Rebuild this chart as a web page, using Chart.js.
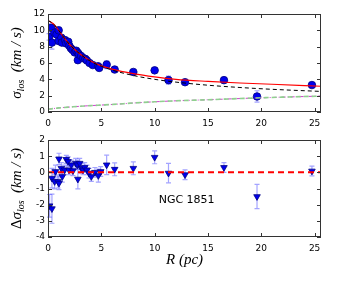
<!DOCTYPE html>
<html>
<head>
<meta charset="utf-8">
<script src="https://cdn.jsdelivr.net/npm/chart.js@4"></script>
<style>
  html, body { margin: 0; padding: 0; background: #fff; }
  #wrap { position: relative; width: 337px; height: 281px; }
  canvas { position: absolute; left: 0; }
</style>
</head>
<body>
<div id="wrap">
  <canvas id="topChart" width="337" height="130" style="top:0"></canvas>
  <canvas id="botChart" width="337" height="151" style="top:130px"></canvas>
</div>
<script>
// axis ticks
const xTicks = [0, 5, 10, 15, 20, 25];
const topYTicks = [0, 2, 4, 6, 8, 10, 12];
const botYTicks = [-4, -3, -2, -1, 0, 1, 2];

// measured velocity dispersion (top panel)
const sigR = [0.1, 0.3, 0.37, 0.6, 0.8, 1.0, 1.0, 1.25, 1.3, 1.6, 1.7, 1.9, 2.0, 2.15, 2.3, 2.5, 2.65, 2.8, 2.8, 2.9, 3.1, 3.3, 3.5, 3.65, 3.9, 4.2, 4.7, 4.8, 5.5, 6.25, 8.0, 10.0, 11.3, 12.85, 16.5, 19.6, 24.75];
const sigV = [9.2, 10.3, 8.5, 9.7, 9.5, 10.0, 8.7, 9.1, 8.5, 8.8, 8.4, 8.6, 8.1, 7.8, 7.6, 7.3, 7.5, 7.25, 6.35, 7.05, 6.85, 6.6, 6.5, 6.3, 6.0, 5.75, 5.6, 5.4, 5.8, 5.2, 4.9, 5.1, 3.9, 3.65, 3.9, 1.9, 3.3];
const sigE = [0.4, 0.5, 0.8, 0.3, 0.3, 0.4, 0.4, 0.3, 0.3, 0.3, 0.3, 0.3, 0.3, 0.3, 0.3, 0.3, 0.3, 0.3, 0.3, 0.3, 0.3, 0.3, 0.3, 0.3, 0.3, 0.3, 0.3, 0.3, 0.5, 0.35, 0.3, 0.35, 0.5, 0.3, 0.3, 0.7, 0.3];

// model curves (top panel)
const modelR = [0, 0.5, 1, 1.5, 2, 3, 4, 5, 6, 8, 10, 12, 15, 18, 21, 25.6];
const fitRed = [11.2, 10.8, 10.0, 9.1, 8.3, 7.1, 6.25, 5.65, 5.25, 4.7, 4.3, 4.0, 3.75, 3.55, 3.4, 3.15];
const fitBlack = [11.2, 10.8, 10.0, 9.1, 8.3, 7.1, 6.2, 5.6, 5.14, 4.47, 4.0, 3.66, 3.28, 3.0, 2.78, 2.52];
const darkComp = [0.35, 0.42, 0.5, 0.55, 0.6, 0.7, 0.78, 0.85, 0.92, 1.1, 1.25, 1.37, 1.5, 1.65, 1.78, 1.95];

// residuals (bottom panel)
const resR = [0.15, 0.37, 0.37, 0.62, 0.7, 0.94, 1.03, 1.03, 1.25, 1.34, 1.56, 1.72, 1.88, 1.97, 2.19, 2.34, 2.6, 2.75, 2.8, 2.97, 3.12, 3.28, 3.44, 3.66, 3.84, 4.06, 4.4, 4.72, 4.94, 5.5, 6.25, 8.0, 10.0, 11.3, 12.85, 16.5, 19.6, 24.75];
const resV = [-2.07, -2.25, -0.36, -0.57, 0.05, -0.57, 0.83, -0.67, 0.25, -0.26, 0.15, 0.8, 0.67, 0.15, 0.46, 0.1, 0.56, 0.46, -0.42, 0.56, 0.25, 0.15, 0.3, 0.15, -0.05, -0.26, 0.0, -0.2, 0.05, 0.46, 0.19, 0.25, 0.93, -0.05, -0.15, 0.3, -1.5, 0.08];
const resE = [0.7, 0.9, 0.6, 0.45, 0.4, 0.4, 0.35, 0.4, 0.35, 0.35, 0.3, 0.25, 0.3, 0.3, 0.3, 0.3, 0.3, 0.3, 0.6, 0.3, 0.3, 0.3, 0.3, 0.3, 0.3, 0.3, 0.3, 0.4, 0.3, 0.6, 0.4, 0.4, 0.4, 0.6, 0.3, 0.3, 0.75, 0.3];
const zeroR = [0, 25.6];
const zeroV = [0, 0];

const xMax = 25.6;
const tickFont = { family: 'DejaVu Sans', size: 9 };
const mathFont = '"Liberation Serif", "DejaVu Serif", serif';

function pts(xs, ys) {
  return xs.map((x, i) => ({ x, y: ys[i] }));
}

// draw "main_sub rest" style math text, optionally rotated
function drawMath(ctx, parts, x, y, rotate) {
  ctx.save();
  ctx.translate(x, y);
  if (rotate) ctx.rotate(-Math.PI / 2);
  let total = 0;
  parts.forEach((p) => {
    ctx.font = (p.upright ? '' : 'italic ') + p.size + 'px ' + mathFont;
    p.w = ctx.measureText(p.t).width;
    total += p.w;
  });
  let cx = -total / 2;
  ctx.fillStyle = '#000';
  ctx.textBaseline = 'middle';
  ctx.textAlign = 'left';
  parts.forEach((p) => {
    ctx.font = (p.upright ? '' : 'italic ') + p.size + 'px ' + mathFont;
    ctx.fillText(p.t, cx, p.dy || 0);
    cx += p.w;
  });
  ctx.restore();
}

const framePlugin = {
  id: 'frame',
  beforeDatasetsDraw(chart) {
    const ctx = chart.ctx;
    const xs = chart.scales.x, ys = chart.scales.y;
    chart.data.datasets.forEach((ds) => {
      if (!ds.errors) return;
      ctx.save();
      ctx.strokeStyle = 'rgba(90,90,255,0.55)';
      ctx.lineWidth = 1.2;
      ds.data.forEach((p, j) => {
        const px = xs.getPixelForValue(p.x);
        const y1 = ys.getPixelForValue(p.y - ds.errors[j]);
        const y2 = ys.getPixelForValue(p.y + ds.errors[j]);
        ctx.beginPath();
        ctx.moveTo(px, y1); ctx.lineTo(px, y2);
        ctx.moveTo(px - 2.5, y1); ctx.lineTo(px + 2.5, y1);
        ctx.moveTo(px - 2.5, y2); ctx.lineTo(px + 2.5, y2);
        ctx.stroke();
      });
      ctx.restore();
    });
  },
  afterDraw(chart, args, opts) {
    const ctx = chart.ctx;
    const a = chart.chartArea;
    const xs = chart.scales.x, ys = chart.scales.y;
    ctx.save();
    ctx.strokeStyle = '#333';
    ctx.lineWidth = 1;
    ctx.strokeRect(a.left + 0.5, a.top + 0.5, a.right - a.left - 1, a.bottom - a.top - 1);
    ctx.beginPath();
    xs.ticks.forEach((t) => {
      const px = Math.round(xs.getPixelForValue(t.value)) + 0.5;
      ctx.moveTo(px, a.bottom); ctx.lineTo(px, a.bottom - 4);
      ctx.moveTo(px, a.top); ctx.lineTo(px, a.top + 4);
    });
    ys.ticks.forEach((t) => {
      const py = Math.round(ys.getPixelForValue(t.value)) + 0.5;
      ctx.moveTo(a.left, py); ctx.lineTo(a.left + 4, py);
      ctx.moveTo(a.right, py); ctx.lineTo(a.right - 4, py);
    });
    ctx.stroke();
    ctx.restore();

    if (opts.yTitle) drawMath(ctx, opts.yTitle, 17, (a.top + a.bottom) / 2, true);
    if (opts.xTitle) drawMath(ctx, opts.xTitle, (a.left + a.right) / 2, a.bottom + 23, false);
    if (opts.note) {
      ctx.save();
      ctx.font = '11px "DejaVu Sans"';
      ctx.fillStyle = '#000';
      ctx.textAlign = 'center';
      ctx.textBaseline = 'middle';
      ctx.fillText(opts.note.text, xs.getPixelForValue(opts.note.x), ys.getPixelForValue(opts.note.y));
      ctx.restore();
    }
  }
};

function scales(yMin, yMax, yTicks, xHeight) {
  return {
    x: {
      type: 'linear', min: 0, max: xMax,
      grid: { display: false, drawTicks: false },
      border: { display: false },
      ticks: { color: '#000', font: tickFont, padding: 6, maxRotation: 0 },
      afterBuildTicks: (s) => { s.ticks = xTicks.map((v) => ({ value: v })); },
      afterFit: (s) => { s.height = xHeight; }
    },
    y: {
      type: 'linear', min: yMin, max: yMax,
      grid: { display: false, drawTicks: false },
      border: { display: false },
      ticks: { color: '#000', font: tickFont, padding: 3 },
      afterBuildTicks: (s) => { s.ticks = yTicks.map((v) => ({ value: v })); },
      afterFit: (s) => { s.width = 48; }
    }
  };
}

new Chart(document.getElementById('topChart'), {
  type: 'scatter',
  data: {
    datasets: [
      { type: 'line', data: pts(modelR, darkComp), borderColor: '#8fd08f', borderWidth: 1.6, borderDash: [5, 3], pointRadius: 0, cubicInterpolationMode: 'monotone' },
      { type: 'line', data: pts(modelR, darkComp), borderColor: '#d040d0', borderWidth: 1, borderDash: [4, 2, 1, 2], pointRadius: 0, cubicInterpolationMode: 'monotone' },
      { type: 'line', data: pts(modelR, fitBlack), borderColor: '#000', borderWidth: 1, borderDash: [4, 3], pointRadius: 0, cubicInterpolationMode: 'monotone' },
      { type: 'line', data: pts(modelR, fitRed), borderColor: '#ff0000', borderWidth: 1.2, pointRadius: 0, cubicInterpolationMode: 'monotone' },
      { data: pts(sigR, sigV), errors: sigE, backgroundColor: '#0000ee', borderColor: '#000080', borderWidth: 0.8, pointRadius: 3.8, pointStyle: 'circle' }
    ]
  },
  options: {
    responsive: false, animation: false, devicePixelRatio: 1,
    layout: { padding: { left: 0, right: 16, top: 14, bottom: 0 } },
    plugins: {
      legend: { display: false }, tooltip: { enabled: false },
      frame: {
        yTitle: [
          { t: 'σ', size: 15 },
          { t: 'los', size: 10, dy: 4 },
          { t: '  (km / s)', size: 15 }
        ]
      }
    },
    scales: scales(0, 12, topYTicks, 18)
  },
  plugins: [framePlugin]
});

new Chart(document.getElementById('botChart'), {
  type: 'scatter',
  data: {
    datasets: [
      { type: 'line', data: pts(zeroR, zeroV), borderColor: '#ff0000', borderWidth: 2, borderDash: [6, 4], pointRadius: 0 },
      { data: pts(resR, resV), errors: resE, backgroundColor: '#0000ee', borderColor: '#000080', borderWidth: 0.8, pointRadius: 3.8, pointStyle: 'triangle', rotation: 180 }
    ]
  },
  options: {
    responsive: false, animation: false, devicePixelRatio: 1,
    layout: { padding: { left: 0, right: 16, top: 10, bottom: 0 } },
    plugins: {
      legend: { display: false }, tooltip: { enabled: false },
      frame: {
        yTitle: [
          { t: 'Δ', size: 15, upright: true },
          { t: 'σ', size: 15 },
          { t: 'los', size: 10, dy: 4 },
          { t: '  (km / s)', size: 15 }
        ],
        xTitle: [
          { t: 'R', size: 15 },
          { t: ' (pc)', size: 15 }
        ],
        note: { text: 'NGC 1851', x: 13, y: -1.75 }
      }
    },
    scales: scales(-4, 2, botYTicks, 44)
  },
  plugins: [framePlugin]
});
</script>
</body>
</html>
